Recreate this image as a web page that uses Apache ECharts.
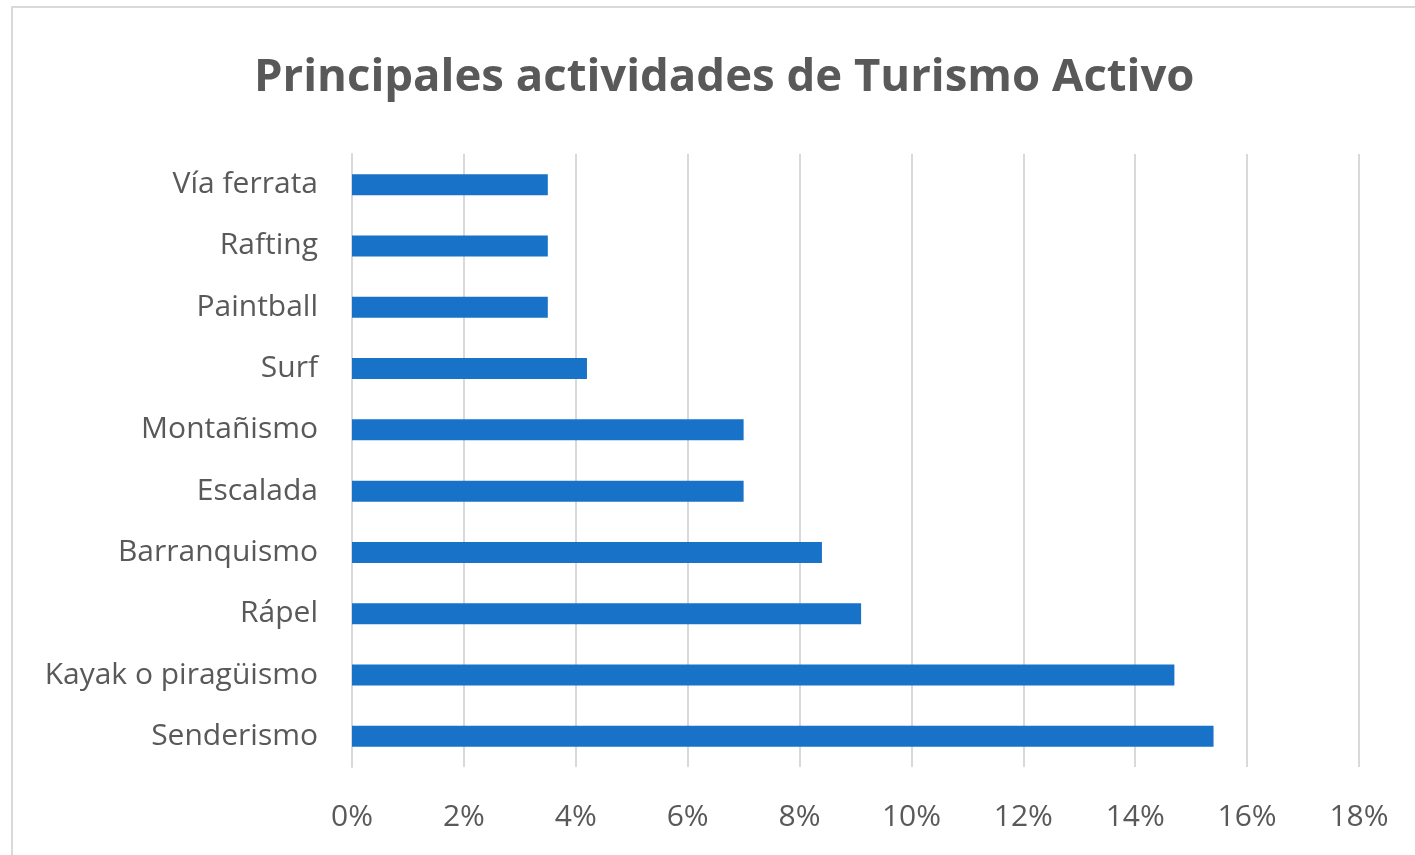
<!DOCTYPE html>
<html><head><meta charset="utf-8">
<script src="https://cdn.jsdelivr.net/npm/echarts@6/dist/echarts.min.js"></script>
<style>html,body{margin:0;padding:0;background:#fff}#c{width:1415px;height:855px}</style>
</head><body><div id="c"></div>
<script>
const categories = ["Senderismo","Kayak o piragüismo","Rápel","Barranquismo","Escalada","Montañismo","Surf","Paintball","Rafting","Vía ferrata"];
const values = [0.154, 0.147, 0.091, 0.084, 0.07, 0.07, 0.042, 0.035, 0.035, 0.035];
const titleText = "Principales actividades de Turismo Activo";
const FONT = "'Open Sans', 'Noto Sans', sans-serif";
const chart = echarts.init(document.getElementById('c'));
chart.setOption({
  animation: false,
  title: { text: titleText, left: 249, top: 50, textStyle: { fontFamily: FONT, fontSize: 45.5, fontWeight: 'bold', color: '#595959' } },
  graphic: [{ type: 'rect', shape: { x: 12, y: 7, width: 1420, height: 900 }, style: { fill: 'none', stroke: '#d9d9d9', lineWidth: 2 }, silent: true }],
  grid: { left: 352, right: 56, top: 154, bottom: 88, containLabel: false },
  xAxis: {
    type: 'value', min: 0, max: 0.18, interval: 0.02,
    axisLine: { show: false }, axisTick: { show: false },
    splitLine: { lineStyle: { color: '#d9d9d9', width: 2 } },
    axisLabel: { formatter: v => Math.round(v * 100) + '%', margin: 35, fontFamily: FONT, fontSize: 30, color: '#595959' }
  },
  yAxis: {
    type: 'category', data: categories,
    axisLine: { show: true, lineStyle: { color: '#d9d9d9', width: 2 } }, axisTick: { show: false },
    axisLabel: { margin: 34, fontFamily: FONT, fontSize: 30, color: '#595959' }
  },
  series: [{ type: 'bar', data: values, barWidth: 21, itemStyle: { color: '#1872C8' } }]
});
</script></body></html>
